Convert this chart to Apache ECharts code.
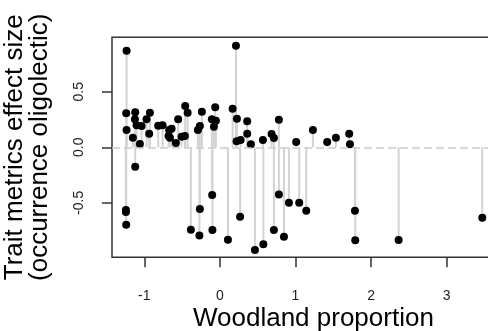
<!DOCTYPE html>
<html><head><meta charset="utf-8">
<script src="https://cdn.jsdelivr.net/npm/echarts@6/dist/echarts.min.js"></script>
<style>html,body{margin:0;padding:0;background:#fff}#c{width:488px;height:331px}</style>
</head><body><div id="c"></div>
<script>
const woodland = [
  -1.234,-1.239,-1.234,-1.120,-1.124,-1.151,-1.102,-1.036,-1.058,-0.970,
  -0.926,-0.935,-0.816,-0.758,-0.671,-0.639,-0.679,-0.661,-0.582,-0.552,
  -0.507,-0.463,-0.459,-0.427,-0.291,-0.265,-0.238,-0.106,-0.053,-0.079,
  -0.062,0.168,0.212,0.225,0.221,0.274,0.361,0.361,0.410,0.569,
  0.684,0.714,0.780,1.009,1.230,1.419,1.534,1.710,1.720,
  -1.120,-1.243,-1.243,-1.239,-0.384,-0.265,-0.271,-0.102,-0.099,0.106,
  0.267,0.463,0.575,0.714,0.780,0.847,0.913,1.049,1.142,1.786,
  1.790,2.364,3.470
];
const effectSize = [
  0.870,0.306,0.156,0.315,0.252,0.086,0.198,0.192,0.030,0.252,
  0.312,0.123,0.195,0.198,0.156,0.168,0.102,0.086,0.039,0.252,
  0.095,0.102,0.372,0.312,0.156,0.192,0.321,0.252,0.240,0.186,
  0.360,0.348,0.915,0.258,0.054,0.066,0.234,0.123,0.027,0.066,
  0.120,0.084,0.249,0.048,0.156,0.048,0.086,0.123,0.027,
  -0.175,-0.565,-0.583,-0.697,-0.742,-0.556,-0.795,-0.430,-0.745,-0.832,
  -0.625,-0.925,-0.874,-0.745,-0.425,-0.805,-0.499,-0.499,-0.571,-0.571,
  -0.838,-0.835,-0.634
];
const xTicks = [-1, 0, 1, 2, 3];
const yTicks = [-0.5, 0, 0.5];
const xTitle = 'Woodland proportion';
const yTitle = 'Trait metrics effect size\n(occurrence oligolectic)';

const points = woodland.map((x, i) => [x, effectSize[i]]);
const font = 'Liberation Sans, Arial, sans-serif';
const chart = echarts.init(document.getElementById('c'), null, {renderer: 'canvas'});
chart.setOption({
  animation: false,
  backgroundColor: '#fff',
  grid: {left: 112, top: 37.3, width: 402.8, height: 220, outerBoundsMode: 'none', containLabel: false,
    show: true, borderColor: '#333', borderWidth: 1.5, backgroundColor: 'transparent'},
  xAxis: {
    type: 'value', min: -1.427, max: 3.9,
    axisLine: {show: false, onZero: false},
    splitLine: {show: false},
    axisTick: {show: true, length: 10, customValues: xTicks, lineStyle: {color: '#333', width: 1.5}},
    axisLabel: {customValues: xTicks, margin: 32, fontSize: 14, color: '#222', fontFamily: font},
    name: xTitle, nameLocation: 'middle', nameGap: 49, nameMoveOverlap: false,
    nameTextStyle: {fontSize: 26, color: '#000', fontFamily: font}
  },
  yAxis: {
    type: 'value', min: -0.991, max: 0.991,
    axisLine: {show: false, onZero: false},
    splitLine: {show: false},
    axisTick: {show: true, length: 10, customValues: yTicks, lineStyle: {color: '#333', width: 1.5}},
    axisLabel: {customValues: yTicks, rotate: 90, margin: 26, fontSize: 14, color: '#222', fontFamily: font,
      formatter: v => v.toFixed(1)},
    name: yTitle, nameLocation: 'middle', nameGap: 60, nameRotate: 90, nameMoveOverlap: false,
    nameTextStyle: {fontSize: 26, color: '#000', fontFamily: font, lineHeight: 25, align: 'center'}
  },
  series: [
    {
      type: 'custom',
      data: points,
      encode: {x: 0, y: 1},
      z: 1,
      renderItem: function (params, api) {
        const p0 = api.coord([api.value(0), 0]);
        const p1 = api.coord([api.value(0), api.value(1)]);
        return {type: 'line', shape: {x1: p0[0], y1: p0[1], x2: p1[0], y2: p1[1]},
          style: {stroke: '#d3d3d3', lineWidth: 2}};
      },
      markLine: {
        silent: true, symbol: 'none', label: {show: false},
        lineStyle: {type: [8, 4], color: '#cccccc', width: 1.5},
        data: [{yAxis: 0}]
      }
    },
    {
      type: 'scatter',
      data: points,
      symbol: 'circle',
      symbolSize: 8,
      itemStyle: {color: '#000', opacity: 1},
      z: 3
    }
  ]
});
</script>
</body></html>
